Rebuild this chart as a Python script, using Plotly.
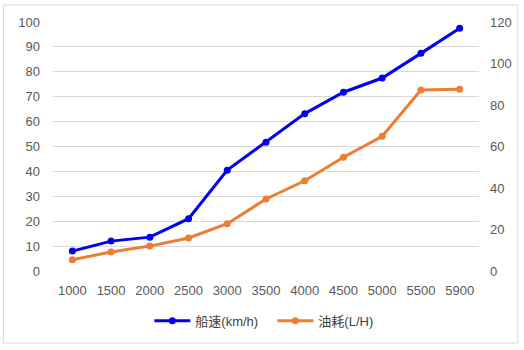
import plotly.graph_objects as go

# Engine speed (rpm) categories
rpm = ["1000", "1500", "2000", "2500", "3000", "3500", "4000", "4500", "5000", "5500", "5900"]
# Boat speed, km/h (left axis)
boat_speed = [8.0, 12.0, 13.6, 21.0, 40.5, 51.7, 63.2, 71.8, 77.5, 87.4, 97.5]
# Fuel consumption, L/H (right axis)
fuel_use = [5.4, 9.2, 12.0, 15.9, 22.8, 34.7, 43.5, 54.8, 64.9, 87.2, 87.6]

left_ticks = list(range(0, 101, 10))
right_ticks = list(range(0, 121, 20))

FONT = "Liberation Sans, Noto Sans CJK SC, sans-serif"
GRAY = "#595959"

fig = go.Figure()
fig.add_trace(go.Scatter(
    x=rpm, y=boat_speed, name="船速(km/h)", mode="lines+markers",
    line=dict(color="#0000F0", width=3), marker=dict(size=7, color="#0000F0"),
    yaxis="y",
))
fig.add_trace(go.Scatter(
    x=rpm, y=fuel_use, name="油耗(L/H)", mode="lines+markers",
    line=dict(color="#ED7D31", width=3), marker=dict(size=7, color="#ED7D31"),
    yaxis="y2",
))

L, R, T, B = 53, 42, 22, 79
W, H = 524, 350
pw, ph = W - L - R, H - T - B

fig.update_layout(
    width=W, height=H,
    margin=dict(l=L, r=R, t=T, b=B, pad=0),
    paper_bgcolor="white", plot_bgcolor="white",
    font=dict(family=FONT, size=13, color=GRAY),
    showlegend=True,
    legend=dict(orientation="h", x=(150 - L) / pw, xanchor="left", y=-0.14, yanchor="top",
                font=dict(family=FONT, size=13, color="#404040"),
                itemwidth=36, entrywidth=72, entrywidthmode="pixels", tracegroupgap=0),
    xaxis=dict(type="category", range=[-0.5, 10.5], showgrid=False, zeroline=False,
               showline=False, ticks="", ticklabelstandoff=10,
               tickfont=dict(size=13, color=GRAY)),
    yaxis=dict(range=[0, 100], tickvals=left_ticks, showgrid=True, gridcolor="#D9D9D9",
               gridwidth=1, zeroline=False, showline=False, ticks="",
               ticklabelstandoff=12, tickfont=dict(size=13, color=GRAY)),
    yaxis2=dict(range=[0, 120], tickvals=right_ticks, overlaying="y", side="right",
                showgrid=False, zeroline=False, showline=False, ticks="",
                ticklabelstandoff=10, tickfont=dict(size=13, color=GRAY)),
    shapes=[dict(
        type="rect", xref="paper", yref="paper",
        x0=(3 - L) / pw, x1=(521 - L) / pw,
        y0=(H - B - 343) / ph, y1=(H - B - 5) / ph,
        line=dict(color="#D9D9D9", width=1), fillcolor="rgba(0,0,0,0)", layer="below",
    )],
)

fig.write_html("out.html")
